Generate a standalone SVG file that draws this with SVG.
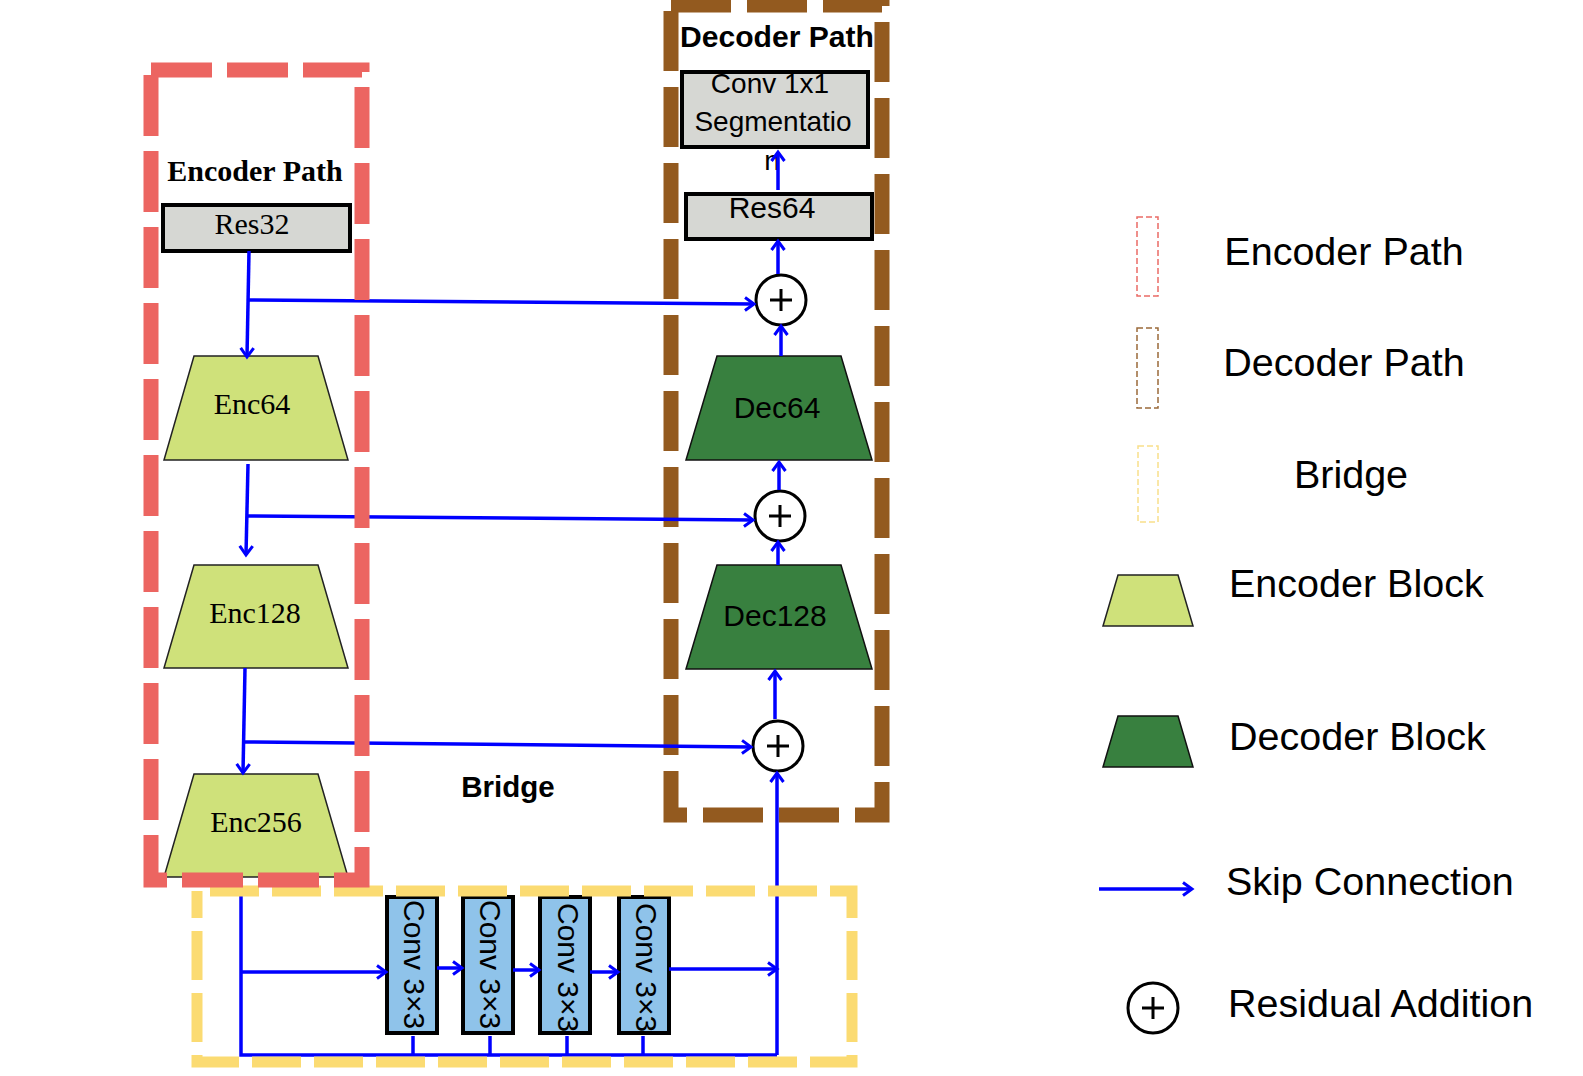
<svg xmlns="http://www.w3.org/2000/svg" width="1583" height="1076" viewBox="0 0 1583 1076">
<defs>
<marker id="arr" markerUnits="userSpaceOnUse" markerWidth="16" markerHeight="16" refX="11" refY="8" orient="auto">
<path d="M2,1.5 L11,8 L2,14.5" fill="none" stroke="#0000ff" stroke-width="3"/>
</marker>
<style>
.serif{font-family:"Liberation Serif","Times New Roman",serif;fill:#000}
.sans{font-family:"Liberation Sans",Arial,sans-serif;fill:#000}
.grey{fill:#d6d7d3;stroke:#000;stroke-width:4}
.enc{fill:#cfe17a;stroke:#222;stroke-width:1.5}
.dec{fill:#38803f;stroke:#111;stroke-width:1.5}
.conv{fill:#8fc3ea;stroke:#000;stroke-width:4}
.link{fill:none;stroke:#0000ff;stroke-width:3.5}
.ar{marker-end:url(#arr)}
.add circle{fill:#fff;stroke:#000;stroke-width:3}
.add path{stroke:#000;stroke-width:3;fill:none}
.leg{font-size:39.5px}
</style>
</defs>
<rect width="1583" height="1076" fill="#fff"/>

<!-- Decoder path container (under connectors) -->
<g id="decoder-path">
<rect x="671" y="5" width="211" height="810" fill="none" stroke="#935a1f" stroke-width="15" stroke-dasharray="60 16"/>
<text class="sans" x="777" y="47" font-size="30" font-weight="bold" text-anchor="middle" textLength="194" lengthAdjust="spacingAndGlyphs">Decoder Path</text>
</g>

<g id="conv1x1">
<rect class="grey" x="682" y="72" width="186" height="75" fill="#d9d9d9"/>
<text class="sans" x="770" y="93" font-size="28" text-anchor="middle">Conv 1x1</text>
<text class="sans" x="773" y="131" font-size="28" text-anchor="middle">Segmentatio</text>
<text class="sans" x="772" y="170" font-size="28" text-anchor="middle">n</text>
</g>
<g id="res64">
<rect class="grey" x="686" y="194" width="186" height="45"/>
<text class="sans" x="772" y="218" font-size="30" text-anchor="middle">Res64</text>
</g>
<g id="dec64">
<polygon class="dec" points="717,356 841,356 872,460 686,460"/>
<text class="sans" x="777" y="418" font-size="30" text-anchor="middle">Dec64</text>
</g>
<g id="dec128">
<polygon class="dec" points="717,565 841,565 872,669 686,669"/>
<text class="sans" x="775" y="626" font-size="30" text-anchor="middle">Dec128</text>
</g>
<g id="add1" class="add"><circle cx="781" cy="300" r="25"/><path d="M770,300 H792 M781,289 V311"/></g>
<g id="add2" class="add"><circle cx="780" cy="516" r="25"/><path d="M769,516 H791 M780,505 V527"/></g>
<g id="add3" class="add"><circle cx="778" cy="746" r="25"/><path d="M767,746 H789 M778,735 V757"/></g>

<!-- Encoder nodes -->
<g id="res32">
<rect class="grey" x="163" y="205" width="187" height="46"/>
<text class="serif" x="252" y="234" font-size="30" text-anchor="middle">Res32</text>
</g>
<g id="enc64">
<polygon class="enc" points="194,356 318,356 348,460 164,460"/>
<text class="serif" x="252" y="414" font-size="30" text-anchor="middle">Enc64</text>
</g>
<g id="enc128">
<polygon class="enc" points="194,565 318,565 348,668 164,668"/>
<text class="serif" x="255" y="623" font-size="30" text-anchor="middle">Enc128</text>
</g>
<g id="enc256">
<polygon class="enc" points="194,774 318,774 348,877 164,877"/>
<text class="serif" x="256" y="832" font-size="30" text-anchor="middle">Enc256</text>
</g>

<!-- Bridge convs -->
<g id="conv1"><rect class="conv" x="387" y="897" width="50" height="136"/><text class="sans" font-size="30" transform="translate(404,900) rotate(90)">Conv 3×3</text></g>
<g id="conv2"><rect class="conv" x="463" y="897" width="50" height="136"/><text class="sans" font-size="30" transform="translate(480,900) rotate(90)">Conv 3×3</text></g>
<g id="conv3"><rect class="conv" x="540" y="897" width="50" height="136"/><text class="sans" font-size="30" transform="translate(558,903) rotate(90)">Conv 3×3</text></g>
<g id="conv4"><rect class="conv" x="619" y="897" width="50" height="136"/><text class="sans" font-size="30" transform="translate(636,903) rotate(90)">Conv 3×3</text></g>

<g id="bridge-label">
<text class="sans" x="508" y="797" font-size="29.5" font-weight="bold" text-anchor="middle">Bridge</text>
</g>

<!-- Connectors -->
<g id="connectors">
<line class="link ar" x1="249" y1="251" x2="247" y2="357"/>
<line class="link ar" x1="249" y1="300" x2="754" y2="304"/>
<line class="link ar" x1="248" y1="464" x2="246" y2="555"/>
<line class="link ar" x1="248" y1="516" x2="753" y2="520"/>
<line class="link ar" x1="245" y1="668" x2="243" y2="773"/>
<line class="link ar" x1="245" y1="742" x2="751" y2="747"/>
<polyline class="link" points="241,877 241,1055 777,1055"/>
<line class="link ar" x1="777" y1="1055" x2="777" y2="773"/>
<line class="link ar" x1="241" y1="972" x2="386" y2="972"/>
<line class="link ar" x1="437" y1="968" x2="462" y2="968"/>
<line class="link ar" x1="513" y1="970" x2="539" y2="970"/>
<line class="link ar" x1="590" y1="972" x2="618" y2="972"/>
<line class="link ar" x1="669" y1="969" x2="777" y2="969"/>
<line class="link" x1="413" y1="1036" x2="413" y2="1055"/>
<line class="link" x1="490" y1="1036" x2="490" y2="1055"/>
<line class="link" x1="567" y1="1036" x2="567" y2="1055"/>
<line class="link" x1="643" y1="1036" x2="643" y2="1055"/>
<line class="link ar" x1="775" y1="719" x2="775" y2="671"/>
<line class="link ar" x1="778" y1="565" x2="778" y2="542"/>
<line class="link ar" x1="779" y1="490" x2="779" y2="462"/>
<line class="link ar" x1="781" y1="356" x2="781" y2="326"/>
<line class="link ar" x1="778" y1="274" x2="778" y2="241"/>
<line class="link ar" x1="778" y1="190" x2="778" y2="152"/>
</g>

<!-- Encoder & bridge containers (over connectors) -->
<g id="bridge">
<rect x="197" y="891" width="655" height="171" fill="none" stroke="#fbdb72" stroke-width="11" stroke-dasharray="49 13" stroke-dashoffset="-13"/>
</g>
<g id="encoder-path">
<rect x="151" y="70" width="211" height="810" fill="none" stroke="#ec6561" stroke-width="15" stroke-dasharray="61 15"/>
<text class="serif" x="255" y="181" font-size="30" font-weight="bold" text-anchor="middle">Encoder Path</text>
</g>

<!-- Legend -->
<g id="legend-encoder-path">
<rect x="1137" y="217" width="21" height="79" fill="none" stroke="#ea6b66" stroke-width="1.5" stroke-dasharray="6 3"/>
<text class="sans leg" x="1344" y="265" text-anchor="middle">Encoder Path</text>
</g>
<g id="legend-decoder-path">
<rect x="1137" y="328" width="21" height="80" fill="none" stroke="#9a6a3a" stroke-width="1.5" stroke-dasharray="6 3"/>
<text class="sans leg" x="1344" y="376" text-anchor="middle">Decoder Path</text>
</g>
<g id="legend-bridge">
<rect x="1138" y="446" width="20" height="76" fill="none" stroke="#f9e08a" stroke-width="1.5" stroke-dasharray="6 3"/>
<text class="sans leg" x="1351" y="488" text-anchor="middle">Bridge</text>
</g>
<g id="legend-encoder-block">
<polygon class="enc" stroke-width="1" points="1118,575 1178,575 1193,626 1103,626"/>
<text class="sans leg" x="1229" y="597">Encoder Block</text>
</g>
<g id="legend-decoder-block">
<polygon class="dec" stroke-width="1" points="1118,716 1178,716 1193,767 1103,767"/>
<text class="sans leg" x="1229" y="750">Decoder Block</text>
</g>
<g id="legend-skip">
<line class="link ar" x1="1099" y1="889" x2="1192" y2="889"/>
<text class="sans leg" x="1226" y="895">Skip Connection</text>
</g>
<g id="legend-residual" class="add">
<circle cx="1153" cy="1008" r="25"/><path d="M1142,1008 H1164 M1153,997 V1019"/>
<text class="sans leg" x="1228" y="1017">Residual Addition</text>
</g>
</svg>
